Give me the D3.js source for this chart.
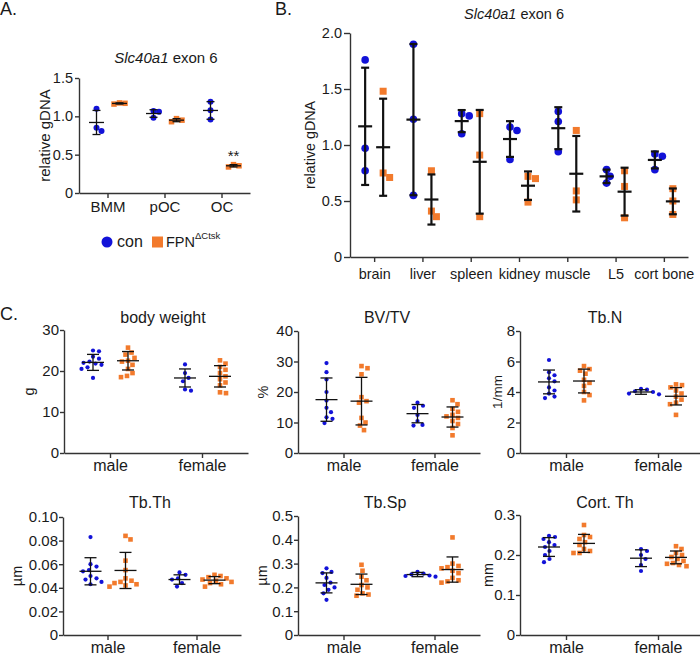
<!DOCTYPE html>
<html><head><meta charset="utf-8">
<script src="https://cdn.jsdelivr.net/npm/d3@7"></script>
<style>body{margin:0;background:#fff} text{font-family:"Liberation Sans",Arial,sans-serif;fill:#1a1a1a}</style>
</head><body>
<svg id="c" width="700" height="657"></svg>
<script>
const BLUE = "#1212d8", ORANGE = "#f27a2c";
const seriesNames = ["con", "FPN"];

// Panel A
const cellTypes = ["BMM", "pOC", "OC"];
const aCon = [[1.10, 0.81, 0.85], [1.07, 1.06, 0.98], [1.19, 0.96, 1.08]];
const aFpn = [[1.17, 1.16, 1.175], [0.97, 0.93, 0.95], [0.37, 0.34, 0.355]];
const aTicks = [0, 0.5, 1.0, 1.5];

// Panel B
const tissues = ["brain", "liver", "spleen", "kidney", "muscle", "L5", "cort bone"];
const bCon = [[1.76, 0.97, 0.77], [1.90, 1.23, 0.55], [1.28, 1.26, 1.10], [1.16, 1.13, 0.87], [1.30, 1.21, 0.94], [0.78, 0.72, 0.66], [0.92, 0.90, 0.78]];
const bFpn = [[1.48, 0.71, 0.75], [0.77, 0.36, 0.41], [1.28, 0.91, 0.36], [0.72, 0.70, 0.49], [1.13, 0.59, 0.51], [0.77, 0.63, 0.35], [0.61, 0.50, 0.38]];
const bTicks = [0, 0.5, 1.0, 1.5, 2.0];

// Panel C  (order: male con, male FPN, female con, female FPN)
const sexes = ["male", "female"];
const bodyWeightPts = [
  [25.0, 24.8, 23.5, 23.0, 22.3, 22.0, 21.8, 21.5, 20.9, 20.5, 18.3],
  [25.7, 24.5, 24.0, 23.2, 22.5, 22.3, 21.5, 20.5, 19.5, 18.8, 18.5],
  [21.6, 19.5, 18.3, 17.5, 15.5, 15.2],
  [22.6, 21.8, 21.0, 20.3, 19.5, 18.7, 18.0, 17.2, 16.5, 14.8, 14.6]];
const bodyWeightMean = [22.1, 22.5, 18.3, 18.7], bodyWeightSD = [1.95, 2.25, 2.2, 2.6];
const bodyWeightTicks = [0, 10, 20, 30];

const bvtvPts = [
  [29.5, 26.5, 24.1, 20.0, 17.2, 14.8, 13.4, 11.7, 11.2, 9.8],
  [28.5, 27.8, 25.8, 18.3, 17.0, 16.5, 11.5, 10.0, 9.0, 7.5],
  [16.5, 15.5, 14.8, 12.5, 10.5, 9.2, 9.0],
  [17.3, 16.0, 14.5, 13.5, 12.5, 12.0, 11.5, 10.5, 9.5, 8.2, 5.8]];
const bvtvMean = [17.5, 17.0, 12.9, 11.8], bvtvSD = [7.1, 7.8, 3.0, 3.3];
const bvtvTicks = [0, 10, 20, 30, 40];

const tbnPts = [
  [6.1, 5.3, 5.1, 4.9, 4.7, 4.3, 4.1, 3.9, 3.7, 3.6],
  [5.7, 5.5, 5.4, 5.2, 4.8, 4.6, 4.4, 4.0, 3.8, 3.45],
  [4.2, 4.15, 4.05, 4.0, 3.9, 3.85],
  [4.5, 4.45, 4.3, 4.1, 3.9, 3.7, 3.5, 3.3, 3.2, 2.5]];
const tbnMean = [4.66, 4.72, 4.0, 3.72], tbnSD = [0.78, 0.78, 0.15, 0.57];
const tbnTicks = [0, 2, 4, 6, 8];

const tbthPts = [
  [0.083, 0.060, 0.058, 0.055, 0.054, 0.050, 0.048, 0.047, 0.045, 0.043],
  [0.084, 0.081, 0.063, 0.055, 0.048, 0.046, 0.045, 0.044, 0.043, 0.042, 0.041],
  [0.053, 0.051, 0.048, 0.047, 0.044, 0.041],
  [0.051, 0.050, 0.049, 0.048, 0.047, 0.046, 0.045, 0.044, 0.043, 0.041]];
const tbthMean = [0.054, 0.0547, 0.047, 0.0465], tbthSD = [0.0115, 0.0153, 0.004, 0.003];
const tbthTicks = [0, 0.02, 0.04, 0.06, 0.08, 0.10];

const tbspPts = [
  [0.28, 0.265, 0.26, 0.24, 0.22, 0.21, 0.20, 0.19, 0.175, 0.148],
  [0.295, 0.27, 0.245, 0.23, 0.21, 0.20, 0.19, 0.175, 0.17, 0.165],
  [0.265, 0.258, 0.255, 0.25, 0.248, 0.245],
  [0.41, 0.30, 0.29, 0.285, 0.28, 0.27, 0.26, 0.24, 0.23, 0.225, 0.22]];
const tbspMean = [0.219, 0.213, 0.254, 0.275], tbspSD = [0.042, 0.043, 0.009, 0.053];
const tbspTicks = [0, 0.1, 0.2, 0.3, 0.4, 0.5];

const cortThPts = [
  [0.248, 0.245, 0.24, 0.232, 0.225, 0.22, 0.21, 0.20, 0.19, 0.182],
  [0.275, 0.25, 0.245, 0.24, 0.232, 0.225, 0.215, 0.21, 0.205, 0.205],
  [0.215, 0.21, 0.20, 0.19, 0.175, 0.16],
  [0.222, 0.215, 0.205, 0.20, 0.195, 0.19, 0.185, 0.18, 0.178, 0.175, 0.172]];
const cortThMean = [0.220, 0.229, 0.192, 0.194], cortThSD = [0.0235, 0.0225, 0.021, 0.016];
const cortThTicks = [0, 0.1, 0.2, 0.3];

const svg = d3.select("#c");

function swarm(vals, y, diam) {
  const items = vals.map(v => ({ v, y: y(v) })).sort((a, b) => a.y - b.y);
  const placed = [];
  items.forEach(it => {
    for (let k = 0; k < 400; k++) {
      const dx = (k % 2 ? 1 : -1) * Math.ceil(k / 2) * 0.5;
      let ok = true;
      for (const p of placed) {
        const dy = Math.abs(p.y - it.y);
        if (dy < diam) {
          const need = Math.sqrt(diam * diam - dy * dy);
          if (Math.abs(dx - p.dx) < need) { ok = false; break; }
        }
      }
      if (ok) { it.dx = dx; break; }
    }
    placed.push(it);
  });
  return items;
}

function panel(o) {
  const g = svg.append("g");
  const y = d3.scaleLinear().domain(o.domain).range([o.yBot, o.yTop]);
  const x = d3.scalePoint().domain(o.cats).range([o.x0, o.x1]).padding(0.5);
  const ya = g.append("g").attr("transform", `translate(${o.x0},0)`)
    .call(d3.axisLeft(y).tickValues(o.ticks).tickFormat(o.fmt).tickSize(o.yTick).tickSizeOuter(0));
  const xa = g.append("g").attr("transform", `translate(0,${o.yBot})`)
    .call(d3.axisBottom(x).tickSize(5).tickSizeOuter(0));
  [ya, xa].forEach(a => {
    a.selectAll("path,line").attr("stroke", "#333").attr("stroke-width", 1.4);
    a.selectAll("text").attr("fill", "#1a1a1a").style("font-family", '"Liberation Sans",Arial,sans-serif');
  });
  ya.selectAll("text").style("font-size", o.yFont + "px").attr("x", o.yLabDx);
  xa.selectAll("text").style("font-size", o.xFont + "px").attr("y", o.xLabDy);

  const groups = [];
  o.cats.forEach((c, i) => {
    groups.push({ cx: x(c) - o.off, vals: o.con[i], color: BLUE, shape: "c", mean: o.means ? o.means[2 * i] : null, sd: o.sds ? o.sds[2 * i] : null });
    groups.push({ cx: x(c) + o.off2, vals: o.fpn[i], color: ORANGE, shape: "s", mean: o.means ? o.means[2 * i + 1] : null, sd: o.sds ? o.sds[2 * i + 1] : null });
  });
  groups.forEach(gr => {
    const pts = swarm(gr.vals, y, o.diam);
    pts.forEach(p => {
      if (gr.shape === "c") {
        g.append("circle").attr("cx", gr.cx + p.dx).attr("cy", p.y).attr("r", o.r).attr("fill", gr.color);
      } else {
        g.append("rect").attr("x", gr.cx + p.dx - o.sq / 2).attr("y", p.y - o.sq / 2)
          .attr("width", o.sq).attr("height", o.sq).attr("fill", gr.color);
      }
    });
  });
  groups.forEach(gr => {
    const m = gr.mean != null ? gr.mean : d3.mean(gr.vals);
    const s = gr.sd != null ? gr.sd : d3.deviation(gr.vals);
    const yt = y(m + s), yb = y(m - s), ym = y(m);
    const ln = (x1, y1, x2, y2) => g.append("line").attr("x1", x1).attr("y1", y1).attr("x2", x2).attr("y2", y2)
      .attr("stroke", "#111").attr("stroke-width", o.errW);
    ln(gr.cx, yt, gr.cx, yb);
    ln(gr.cx - o.cap, yt, gr.cx + o.cap, yt);
    ln(gr.cx - o.cap, yb, gr.cx + o.cap, yb);
    ln(gr.cx - o.meanW, ym, gr.cx + o.meanW, ym);
  });
  if (o.title) {
    const t = g.append("text").attr("x", o.titleX).attr("y", o.titleY).attr("text-anchor", "middle")
      .style("font-size", o.titleFont + "px");
    if (o.italic) {
      t.append("tspan").style("font-style", "italic").text(o.italic);
    }
    t.append("tspan").text(o.title);
  }
  g.append("text").attr("transform", `translate(${o.ylabX},${(o.yTop + o.yBot) / 2}) rotate(-90)`)
    .attr("text-anchor", "middle").style("font-size", o.ylabFont + "px").text(o.ylab);
  return { x, y, g };
}

const f1 = d => d === 0 ? "0" : d.toFixed(1);
const f2 = d => d === 0 ? "0" : d.toFixed(2);
const f0 = d => String(d);

// Panel A
const A = panel({
  x0: 79, x1: 250, yTop: 78, yBot: 193, domain: [0, 1.5], ticks: aTicks, fmt: f1,
  cats: cellTypes, con: aCon, fpn: aFpn, off: 11, off2: 12, r: 3, sq: 5.5, diam: 5.5,
  cap: 4, meanW: 7.5, errW: 1.3, yFont: 14.5, yTick: 4, yLabDx: -6, xFont: 15, xLabDy: 8.5,
  italic: "Slc40a1", title: " exon 6", titleX: 166, titleY: 63, titleFont: 15,
  ylab: "relative gDNA", ylabX: 50, ylabFont: 15
});
A.g.append("text").attr("x", A.x("OC") + 12).attr("y", A.y(0.42)).attr("text-anchor", "middle")
  .style("font-size", "15px").text("**");
// legend A
svg.append("circle").attr("cx", 107).attr("cy", 242).attr("r", 5.5).attr("fill", BLUE);
svg.append("text").attr("x", 117).attr("y", 247).style("font-size", "16px").text(seriesNames[0]);
svg.append("rect").attr("x", 152).attr("y", 236.5).attr("width", 11).attr("height", 11).attr("fill", ORANGE);
const lt = svg.append("text").attr("x", 166).attr("y", 247).style("font-size", "14.5px");
lt.append("tspan").text(seriesNames[1]);
lt.append("tspan").attr("dy", -8).style("font-size", "9.5px").text("ΔCtsk");

// Panel B
panel({
  x0: 350, x1: 688, yTop: 33, yBot: 257, domain: [0, 2], ticks: bTicks, fmt: f1,
  cats: tissues, con: bCon, fpn: bFpn, off: 9, off2: 9, r: 3.8, sq: 7, diam: 7.5,
  cap: 4, meanW: 7, errW: 2.2, yFont: 14.5, yTick: 6, yLabDx: -8, xFont: 14.4, xLabDy: 11.5,
  italic: "Slc40a1", title: " exon 6", titleX: 514, titleY: 19, titleFont: 14.5,
  ylab: "relative gDNA", ylabX: 315, ylabFont: 14.3
});

// Panel C
const cBase = { cats: sexes, off: 17, off2: 18, r: 2.1, sq: 4.6, diam: 6, cap: 6, meanW: 11, errW: 1.3,
  yFont: 15, yTick: 4, yLabDx: -5, xFont: 16, xLabDy: 7, titleFont: 16, ylabFont: 14.5 };
function cPanel(extra, pts, means, sds) {
  return panel(Object.assign({}, cBase, extra, {
    con: [pts[0], pts[2]], fpn: [pts[1], pts[3]],
    means: [means[0], means[1], means[2], means[3]], sds: [sds[0], sds[1], sds[2], sds[3]]
  }));
}
cPanel({ x0: 64, x1: 248, yTop: 330, yBot: 453, domain: [0, 30], ticks: bodyWeightTicks, fmt: f0,
  title: "body weight", titleX: 163, titleY: 323, ylab: "g", ylabX: 34 }, bodyWeightPts, bodyWeightMean, bodyWeightSD);
cPanel({ x0: 298, x1: 480, yTop: 331, yBot: 453, domain: [0, 40], ticks: bvtvTicks, fmt: f0,
  title: "BV/TV", titleX: 387, titleY: 323, ylab: "%", ylabX: 268 }, bvtvPts, bvtvMean, bvtvSD);
cPanel({ x0: 520, x1: 704, yTop: 331, yBot: 453, domain: [0, 8], ticks: tbnTicks, fmt: f0,
  title: "Tb.N", titleX: 605, titleY: 323, ylab: "1/mm", ylabX: 502, ylabFont: 13.5 }, tbnPts, tbnMean, tbnSD);
cPanel({ x0: 63, x1: 241, yTop: 517, yBot: 635, domain: [0, 0.10], ticks: tbthTicks, fmt: f2,
  title: "Tb.Th", titleX: 150, titleY: 508, ylab: "µm", ylabX: 22 }, tbthPts, tbthMean, tbthSD);
cPanel({ x0: 298, x1: 480, yTop: 516, yBot: 635, domain: [0, 0.5], ticks: tbspTicks, fmt: f1,
  title: "Tb.Sp", titleX: 385, titleY: 508, ylab: "µm", ylabX: 267 }, tbspPts, tbspMean, tbspSD);
cPanel({ x0: 520, x1: 704, yTop: 515, yBot: 635, domain: [0, 0.3], ticks: cortThTicks, fmt: f1,
  title: "Cort. Th", titleX: 605, titleY: 508, ylab: "mm", ylabX: 493 }, cortThPts, cortThMean, cortThSD);

// panel letters
svg.append("text").attr("x", 0).attr("y", 15).style("font-size", "18px").text("A.");
svg.append("text").attr("x", 275).attr("y", 15).style("font-size", "18px").text("B.");
svg.append("text").attr("x", 0).attr("y", 320).style("font-size", "18px").text("C.");
</script>
</body></html>
